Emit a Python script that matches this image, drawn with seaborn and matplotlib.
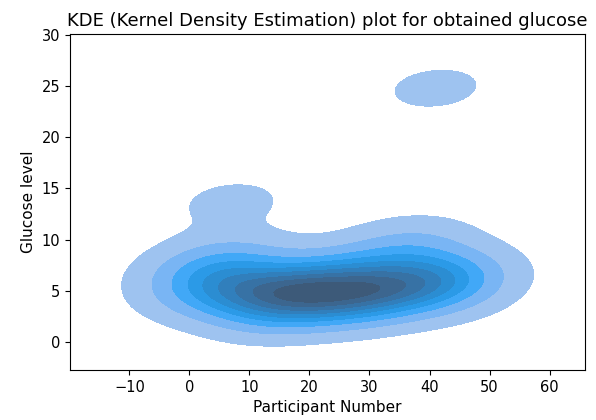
import matplotlib
matplotlib.use("Agg")
import matplotlib.pyplot as plt
import seaborn as sns
import pandas as pd

participants = [1, 2, 3, 4, 5, 6, 7, 8, 9, 10, 11, 12, 13, 14, 15,
                16, 17, 18, 19, 20, 21, 22, 23, 24, 25, 26, 27, 28, 29, 30,
                31, 32, 33, 34, 35, 36, 37, 38, 39, 40, 41, 42, 43, 44, 45]
glucose = [6.6, 4.8, 7.0, 5.6, 8.4, 4.9, 13.6, 5.9, 7.8, 4.9, 3.8, 5.0, 4.5, 2.6, 5.4,
           4.8, 3.4, 5.6, 4.2, 5.1, 4.9, 3.9, 6.8, 4.6, 5.2, 4.3, 7.4, 4.8, 3.6, 5.0,
           4.4, 5.7, 6.4, 4.9, 9.0, 5.3, 9.8, 5.1, 7.8, 5.6, 24.8, 6.2, 4.6, 6.8, 5.9]

df = pd.DataFrame({"Participant Number": participants, "Glucose level": glucose})

plt.rcParams['font.family'] = ['DejaVu Sans']
fig, ax = plt.subplots(figsize=(5.96, 4.2), dpi=100)
fig.subplots_adjust(left=0.1174, right=0.9815, top=0.919, bottom=0.119)

sns.kdeplot(data=df, x="Participant Number", y="Glucose level", fill=True, ax=ax)

ax.set_title("KDE (Kernel Density Estimation) plot for obtained glucose", fontsize=13)
ax.set_xlabel("Participant Number", fontsize=11)
ax.set_ylabel("Glucose level", fontsize=11)
ax.set_xticks([-10, 0, 10, 20, 30, 40, 50, 60])
ax.set_yticks([0, 5, 10, 15, 20, 25, 30])
ax.tick_params(labelsize=10.5)
ax.set_xlim(-19.9, 65.9)
ax.set_ylim(-2.75, 30.1)

fig.savefig("out.png", dpi=100)
